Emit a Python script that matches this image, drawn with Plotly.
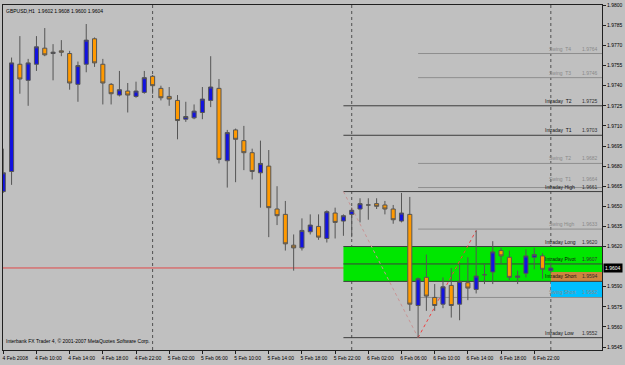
import plotly.graph_objects as go
import pandas as pd

# ---------------- data ----------------
title_text = "GBPUSD,H1  1.9602 1.9608 1.9600 1.9604"
copyright_text = "Interbank FX Trader 4, \u00a9 2001-2007 MetaQuotes Software Corp."

times = pd.date_range("2008-02-04 06:00", periods=67, freq="h")

opens = [1.9661, 1.9676, 1.9756, 1.9744, 1.9756, 1.9768, 1.9764, 1.9766, 1.9764, 1.9741,
         1.9756, 1.9775, 1.9756, 1.9741, 1.9733, 1.9736, 1.9732, 1.9735, 1.9747, 1.9738,
         1.9732, 1.9729, 1.9715, 1.9716, 1.9720, 1.9729, 1.9738, 1.9684, 1.9707, 1.9699,
         1.9690, 1.9675, 1.9680, 1.9648, 1.9644, 1.9621, 1.9619, 1.9631, 1.9635, 1.9626,
         1.9645, 1.9639, 1.9644, 1.9648, 1.9651, 1.9652, 1.9651, 1.9648, 1.9639, 1.9644,
         1.9576, 1.9597, 1.9582, 1.9577, 1.9591, 1.9577, 1.9593, 1.9588, 1.9599, 1.9601,
         1.9617, 1.9612, 1.9597, 1.9600, 1.9612, 1.9613, 1.9602]
highs = [1.9693, 1.9761, 1.9777, 1.9760, 1.9777, 1.9783, 1.9771, 1.9774, 1.9766, 1.9758,
         1.9786, 1.9776, 1.9760, 1.9742, 1.9751, 1.9742, 1.9743, 1.9751, 1.9748, 1.9740,
         1.9739, 1.9733, 1.9728, 1.9726, 1.9739, 1.9762, 1.9745, 1.9707, 1.9708, 1.9710,
         1.9693, 1.9699, 1.9692, 1.9665, 1.9654, 1.9629, 1.9641, 1.9644, 1.9644, 1.9647,
         1.9649, 1.9644, 1.9649, 1.9656, 1.9656, 1.9656, 1.9654, 1.9651, 1.9660, 1.9657,
         1.9597, 1.9614, 1.9592, 1.9597, 1.9604, 1.9607, 1.9612, 1.9632, 1.9607, 1.9624,
         1.9619, 1.9617, 1.9602, 1.9618, 1.9619, 1.9615, 1.9608]
lows = [1.9660, 1.9666, 1.9734, 1.9725, 1.9751, 1.9762, 1.9744, 1.9762, 1.9737, 1.9728,
        1.9750, 1.9754, 1.9726, 1.9726, 1.9732, 1.9720, 1.9731, 1.9734, 1.9734, 1.9729,
        1.9725, 1.9700, 1.9713, 1.9715, 1.9715, 1.9724, 1.9682, 1.9664, 1.9668, 1.9677,
        1.9670, 1.9649, 1.9627, 1.9636, 1.9617, 1.9602, 1.9617, 1.9629, 1.9625, 1.9623,
        1.9626, 1.9628, 1.9627, 1.9638, 1.9640, 1.9648, 1.9644, 1.9637, 1.9638, 1.9572,
        1.9552, 1.9572, 1.9572, 1.9574, 1.9567, 1.9565, 1.9580, 1.9585, 1.9592, 1.9592,
        1.9607, 1.9595, 1.9592, 1.9597, 1.9603, 1.9596, 1.9600]
closes = [1.9675, 1.9757, 1.9745, 1.9757, 1.9769, 1.9763, 1.9765, 1.9765, 1.9742, 1.9755,
          1.9774, 1.9757, 1.9742, 1.9734, 1.9737, 1.9733, 1.9736, 1.9746, 1.9740, 1.9731,
          1.9730, 1.9714, 1.9717, 1.9721, 1.9730, 1.9739, 1.9685, 1.9705, 1.9700, 1.9690,
          1.9676, 1.9682, 1.9649, 1.9643, 1.9622, 1.9619, 1.9632, 1.9636, 1.9627, 1.9646,
          1.9638, 1.9643, 1.9647, 1.9652, 1.9651, 1.9650, 1.9648, 1.9640, 1.9645, 1.9577,
          1.9596, 1.9583, 1.9576, 1.9590, 1.9576, 1.9594, 1.9589, 1.9598, 1.9599, 1.9616,
          1.9613, 1.9597, 1.9598, 1.9613, 1.9614, 1.9603, 1.9604]

price_ticks = [1.9800, 1.9785, 1.9770, 1.9755, 1.9740, 1.9725, 1.9710, 1.9695, 1.9680,
               1.9665, 1.9650, 1.9635, 1.9620, 1.9590, 1.9575, 1.9560, 1.9545]
time_ticks = pd.date_range("2008-02-04 06:00", periods=17, freq="4h")
time_labels = ["4 Feb 2008", "4 Feb 10:00", "4 Feb 14:00", "4 Feb 18:00", "4 Feb 22:00",
               "5 Feb 02:00", "5 Feb 06:00", "5 Feb 10:00", "5 Feb 14:00", "5 Feb 18:00",
               "5 Feb 22:00", "6 Feb 02:00", "6 Feb 06:00", "6 Feb 10:00", "6 Feb 14:00",
               "6 Feb 18:00", "6 Feb 22:00"]
day_separators = ["2008-02-05 00:00", "2008-02-06 00:00", "2008-02-07 00:00"]

current_price = 1.9604

intraday_names = ["Intraday  T2", "Intraday  T1", "Intraday High", "Intraday Long",
                  "Intraday Pivot", "Intraday Short", "Intraday Low"]
intraday_levels = [1.9725, 1.9703, 1.9661, 1.9620, 1.9607, 1.9594, 1.9552]
intraday_start = "2008-02-05 23:00"

swing_names = ["Swing  T4", "Swing  T3", "Swing  T2", "Swing  T1", "Swing High", "Swing Short"]
swing_levels = [1.9764, 1.9746, 1.9682, 1.9664, 1.9633, 1.9582]
swing_start = "2008-02-06 08:00"

zone_start = "2008-02-07 00:00"
orange_zone = [1.9601, 1.9594]
cyan_zone = [1.9594, 1.9582]

zigzag_times = ["2008-02-05 23:00", "2008-02-06 08:00", "2008-02-06 15:00"]
zigzag_prices = [1.9661, 1.9552, 1.9632]

x_range = ["2008-02-04 05:58", "2008-02-07 06:10"]
y_range = [1.95428, 1.98002]

# ---------------- styles ----------------
BG = "#C0C0C0"
FONT = "Liberation Sans"
DARK = "#3C3C3C"
GREY = "#8E8E8E"

fig = go.Figure()

fig.add_trace(go.Candlestick(
    x=times, open=opens, high=highs, low=lows, close=closes,
    increasing=dict(fillcolor="#1212E0", line=dict(color="#555555", width=1)),
    decreasing=dict(fillcolor="#FF9900", line=dict(color="#555555", width=1)),
    whiskerwidth=0, showlegend=False, hoverinfo="skip",
))

shapes = []
# zones
shapes.append(dict(type="rect", xref="x", yref="y", x0=intraday_start, x1=x_range[1],
                   y0=intraday_levels[3], y1=intraday_levels[5],
                   fillcolor="#00E600", line=dict(width=0), layer="below"))
shapes.append(dict(type="rect", xref="x", yref="y", x0=zone_start, x1=x_range[1],
                   y0=orange_zone[0], y1=orange_zone[1],
                   fillcolor="#CD853F", line=dict(width=0), layer="below"))
shapes.append(dict(type="rect", xref="x", yref="y", x0=zone_start, x1=x_range[1],
                   y0=cyan_zone[0], y1=cyan_zone[1],
                   fillcolor="#00BFFF", line=dict(width=0), layer="below"))
# current price line
shapes.append(dict(type="line", xref="paper", yref="y", x0=0, x1=1,
                   y0=current_price, y1=current_price,
                   line=dict(color="#E04848", width=1), layer="below"))
# day separators
for d in day_separators:
    shapes.append(dict(type="line", xref="x", yref="paper", x0=d, x1=d, y0=0, y1=1,
                       line=dict(color="#505050", width=1, dash="dot"), layer="below"))
# swing levels
for v in swing_levels:
    shapes.append(dict(type="line", xref="x", yref="y", x0=swing_start, x1=x_range[1],
                       y0=v, y1=v, line=dict(color=GREY, width=1), layer="below"))
# intraday levels
for v in intraday_levels:
    shapes.append(dict(type="line", xref="x", yref="y", x0=intraday_start, x1=x_range[1],
                       y0=v, y1=v, line=dict(color=DARK, width=1), layer="below"))
# zigzag
shapes.append(dict(type="line", xref="x", yref="y", x0=zigzag_times[0], x1=zigzag_times[1],
                   y0=zigzag_prices[0], y1=zigzag_prices[1],
                   line=dict(color="#C89494", width=1, dash="dot"), layer="below"))
shapes.append(dict(type="line", xref="x", yref="y", x0=zigzag_times[1], x1=zigzag_times[2],
                   y0=zigzag_prices[1], y1=zigzag_prices[2],
                   line=dict(color="#F04040", width=1, dash="dot"), layer="below"))

annotations = []
fs = 5
label_x = "2008-02-06 23:00"
for name, v in zip(intraday_names, intraday_levels):
    annotations.append(dict(x=label_x, y=v, xref="x", yref="y", text=name, showarrow=False,
                            xanchor="left", yanchor="bottom", font=dict(family=FONT, size=fs, color="#101010")))
    annotations.append(dict(x=0.997, y=v, xref="paper", yref="y", text=f"{v:.4f}", showarrow=False,
                            xanchor="right", yanchor="bottom", font=dict(family=FONT, size=fs, color="#303030")))
for name, v in zip(swing_names, swing_levels):
    # lift the Swing T1 label a little so it does not sit on top of "Intraday High"
    ys = 4 if name == "Swing  T1" else 0
    annotations.append(dict(x=label_x, y=v, xref="x", yref="y", text=name, showarrow=False,
                            xanchor="left", yanchor="bottom", xshift=4, yshift=ys,
                            font=dict(family=FONT, size=fs, color="#8A8A8A")))
    annotations.append(dict(x=0.997, y=v, xref="paper", yref="y", text=f"{v:.4f}", showarrow=False,
                            xanchor="right", yanchor="bottom", yshift=ys,
                            font=dict(family=FONT, size=fs, color="#8A8A8A")))
# current price tag
annotations.append(dict(x=1, y=current_price, xref="paper", yref="y", text=f"{current_price:.4f}",
                        showarrow=False, xanchor="left", yanchor="middle", xshift=1,
                        bgcolor="#000000", borderpad=1, font=dict(family=FONT, size=fs, color="#FFFFFF")))
# header and footer texts
annotations.append(dict(x=0.002, y=0.997, xref="paper", yref="paper", text=title_text, showarrow=False,
                        xanchor="left", yanchor="top", font=dict(family=FONT, size=fs, color="#000000")))
annotations.append(dict(x=0.002, y=0.012, xref="paper", yref="paper", text=copyright_text, showarrow=False,
                        xanchor="left", yanchor="bottom", font=dict(family=FONT, size=fs, color="#000000")))

fig.update_layout(
    width=625, height=365,
    margin=dict(l=2, r=22, t=2, b=15),
    paper_bgcolor=BG, plot_bgcolor=BG,
    shapes=shapes, annotations=annotations,
    showlegend=False,
    xaxis=dict(type="date", range=x_range, rangeslider=dict(visible=False),
               showgrid=False, zeroline=False,
               tickvals=time_ticks, ticktext=time_labels,
               ticks="outside", ticklen=3, tickcolor="#202020", ticklabelshift=12,
               tickfont=dict(family=FONT, size=fs, color="#000000"),
               showline=True, linecolor="#202020", linewidth=1, mirror=True),
    yaxis=dict(range=y_range, side="right", showgrid=False, zeroline=False,
               tickvals=price_ticks, tickformat=".4f",
               ticks="outside", ticklen=3, tickcolor="#202020",
               tickfont=dict(family=FONT, size=fs, color="#000000"),
               showline=True, linecolor="#202020", linewidth=1, mirror=True),
)

fig.write_html("out.html")
